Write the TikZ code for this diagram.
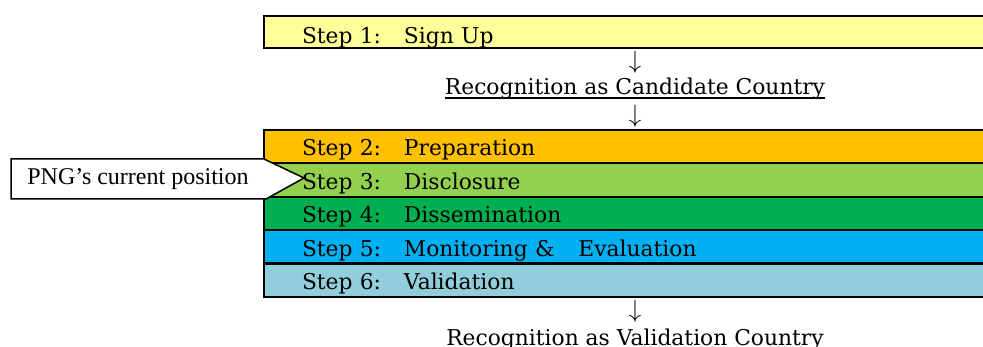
\documentclass[tikz,border=0pt]{standalone}
\usepackage{fontspec}
\setmainfont{DejaVu Serif}
\newfontfamily\calloutfont{Liberation Serif}
\usetikzlibrary{positioning}

\definecolor{signup}{HTML}{FFFF99}
\definecolor{prep}{HTML}{FFC000}
\definecolor{disclose}{HTML}{92D050}
\definecolor{dissem}{HTML}{00B050}
\definecolor{monitor}{HTML}{00B0F0}
\definecolor{valid}{HTML}{92CDDC}

\newcommand{\steplabel}[2]{\makebox[102pt][l]{Step #1:}#2}
% heavier underline than \underline gives
\newcommand{\ulinetext}[1]{\setbox0\hbox{#1}\rlap{\rule[-4pt]{\wd0}{1.8pt}}\box0}

\begin{document}
\begin{tikzpicture}[
    x=1pt, y=-1pt,
    font=\fontsize{21.8}{25}\selectfont,
    step box/.style={
        draw,
        line width=2.2pt,
        outer sep=0pt,
        minimum width=730pt,
        minimum height=33.4pt,
        text width=654pt,
        text height=26pt,
        text depth=7.4pt,
        inner xsep=38pt,
        inner ysep=0pt,
        align=left,
    },
    down arrow/.style={inner sep=0pt, font=\fontsize{26}{28}\selectfont},
    callout/.style={draw, line width=1.5pt, fill=white, line join=miter}
]
\useasboundingbox (0,0) rectangle (983,347);

% sign up stands apart
\node[step box, fill=signup, anchor=north west, minimum height=32pt, text height=28pt, text depth=4pt] (step1) at (264,16) {\steplabel{1}{Sign Up}};
\node[down arrow] (arr1) at (635,62) {$\downarrow$};
\node[anchor=base] (cand) at (635,95) {\ulinetext{Recognition as Candidate Country}};
\node[down arrow] (arr2) at (635,116) {$\downarrow$};

% the five steps stacked
\node[step box, fill=prep, anchor=north west] (step2) at (264,130) {\steplabel{2}{Preparation}};
\node[step box, fill=disclose, below=0pt of step2] (step3) {\steplabel{3}{Disclosure}};
\node[step box, fill=dissem, below=0pt of step3] (step4) {\steplabel{4}{Dissemination}};
\node[step box, fill=monitor, below=0pt of step4] (step5) {\steplabel{5}{Monitoring \&\hspace{24pt}Evaluation}};
\node[step box, fill=valid, below=0pt of step5] (step6) {\steplabel{6}{Validation}};

\node[down arrow] (arr3) at (635,311) {$\downarrow$};
\node[anchor=base] (valc) at (635,345) {\ulinetext{Recognition as Validation Country}};

% pointer to step 3
\draw[callout] (11,159) -- (264,159) -- (304,178) -- (266,199) -- (11,199) -- cycle;
\node[font=\calloutfont\fontsize{24}{28}\selectfont] (png) at (138,179) {PNG’s current position};
\end{tikzpicture}
\end{document}
